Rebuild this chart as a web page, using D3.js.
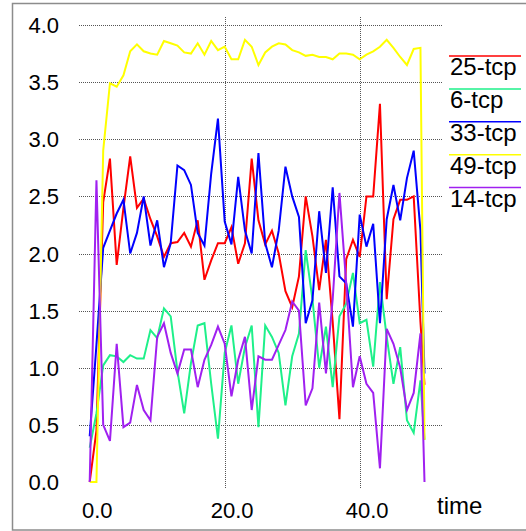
<!DOCTYPE html>
<html>
<head>
<meta charset="utf-8">
<script src="https://cdn.jsdelivr.net/npm/d3@7/dist/d3.min.js"></script>
<style>
	body { margin: 0; background: #fff; }
	svg text { font-family: "Liberation Sans", Arial, Helvetica, sans-serif; fill: #000; }
</style>
</head>
<body>
<div id="chart"></div>
<script>

// sample times (last sample is the end of the run)
var times = [0, 1, 2, 3, 4, 5, 6, 7, 8, 9, 10, 11, 12, 13, 14, 15, 16, 17, 18, 19,
	20, 21, 22, 23, 24, 25, 26, 27, 28, 29, 30, 31, 32, 33, 34, 35, 36, 37, 38, 39,
	40, 41, 42, 43, 44, 45, 46, 47, 48, 49, 49.6];

var tcp25 = [0, 0.45, 2.45, 2.83, 1.9, 2.4, 2.85, 2.4, 2.48, 2.3, 2.15, 1.97, 2.09, 2.1, 2.18, 2.06, 2.29, 1.77, 1.94, 2.09,
	2.09, 2.23, 1.91, 2.09, 2.83, 2.29, 2.08, 2.2, 2.0, 1.67, 1.53, 1.8, 2.5, 2.15, 1.68, 2.12, 1.4, 0.55, 1.95, 2.12,
	1.97, 2.5, 2.5, 3.31, 1.6, 2.3, 2.47, 2.47, 2.5, 1.4, 0.85];

var tcp6 = [0.3, 0.6, 1.02, 1.11, 1.1, 1.05, 1.11, 1.08, 1.08, 1.33, 1.26, 1.52, 1.45, 0.97, 0.6, 1.04, 1.37, 1.39, 0.86, 0.38,
	1.13, 1.37, 0.86, 1.18, 1.37, 0.48, 1.37, 1.27, 1.13, 0.67, 1.1, 1.3, 2.03, 1.6, 1.0, 1.36, 0.83, 1.45, 1.56, 1.83,
	1.39, 1.42, 1.01, 1.75, 1.27, 0.86, 1.18, 0.54, 0.43, 0.89, 0.37];

var tcp33 = [0.4, 1.2, 2.05, 2.2, 2.35, 2.47, 2.0, 2.18, 2.5, 2.07, 2.29, 1.88, 2.09, 2.77, 2.73, 2.6, 2.18, 2.07, 2.7, 3.18,
	2.28, 2.08, 2.67, 2.2, 2.0, 2.88, 2.09, 1.88, 2.2, 2.76, 2.5, 2.32, 1.39, 1.59, 2.37, 1.83, 2.58, 1.8, 1.74, 1.36,
	2.34, 2.06, 2.26, 1.39, 2.3, 2.6, 2.29, 2.66, 2.9, 2.2, 0.95];

var tcp49 = [0, 0, 2.9, 3.49, 3.46, 3.56, 3.77, 3.83, 3.77, 3.75, 3.74, 3.86, 3.84, 3.82, 3.76, 3.75, 3.84, 3.74, 3.86, 3.78,
	3.81, 3.70, 3.70, 3.87, 3.81, 3.65, 3.76, 3.81, 3.84, 3.83, 3.78, 3.76, 3.73, 3.74, 3.72, 3.72, 3.70, 3.75, 3.75, 3.74,
	3.70, 3.74, 3.77, 3.81, 3.87, 3.80, 3.72, 3.65, 3.79, 3.80, 0.37];

var tcp14 = [0, 2.64, 0.5, 0.36, 1.21, 0.48, 0.52, 0.85, 0.63, 0.54, 1.27, 1.39, 1.13, 0.95, 1.16, 1.16, 0.83, 1.07, 1.2, 1.36,
	1.21, 0.75, 1.07, 1.27, 0.63, 1.1, 1.07, 1.07, 1.2, 1.33, 1.58, 1.5, 0.67, 0.82, 1.57, 0.95, 1.6, 2.53, 1.74, 0.83,
	1.1, 0.86, 0.78, 0.12, 1.34, 1.21, 1.0, 0.63, 0.78, 1.3, 0];

var seriesNames = ["25-tcp", "6-tcp", "33-tcp", "49-tcp", "14-tcp"];
var seriesValues = [tcp25, tcp6, tcp33, tcp49, tcp14];
var seriesColors = ["#ff0000", "#1ef08a", "#0000ff", "#ffff00", "#a020f0"];

var yTicks = [0, 0.5, 1.0, 1.5, 2.0, 2.5, 3.0, 3.5, 4.0];
var xTicks = [0, 20, 40];
var xLabel = "time";


var w = 526, h = 531;

// grid area (xgraph style, a bit wider than the data)
var grid = { left: 79, right: 442, top: 17, bottom: 489 };

var svg = d3.select("#chart")
	.append("svg")
		.attr("width", w)
		.attr("height", h);

// outer frame
svg.append("rect")
	.attr("x", 12.5)
	.attr("y", 3.5)
	.attr("width", 530)
	.attr("height", 526.5)
	.attr("fill", "none")
	.attr("stroke", "#8c8c8c")
	.attr("stroke-width", 1.5);

// Scales
var x = d3.scaleLinear()
	.domain([0, 40])
	.range([89.7, 359.7]);

var y = d3.scaleLinear()
	.domain([0, 4])
	.range([482, 25]);


// Horizontal grid lines (none at zero)
svg.selectAll(".hgrid")
	.data(yTicks.filter(function(d) { return d > 0; }))
	.enter().append("line")
		.attr("class", "hgrid")
		.attr("x1", grid.left)
		.attr("x2", grid.right)
		.attr("y1", function(d) { return Math.round(y(d)) + 0.5; })
		.attr("y2", function(d) { return Math.round(y(d)) + 0.5; })
		.attr("stroke", "#555")
		.attr("stroke-width", 1)
		.attr("stroke-dasharray", "1,1");

// Vertical grid lines (none at zero)
svg.selectAll(".vgrid")
	.data(xTicks.filter(function(d) { return d > 0; }))
	.enter().append("line")
		.attr("class", "vgrid")
		.attr("x1", function(d) { return Math.round(x(d)) + 0.5; })
		.attr("x2", function(d) { return Math.round(x(d)) + 0.5; })
		.attr("y1", grid.top)
		.attr("y2", grid.bottom)
		.attr("stroke", "#555")
		.attr("stroke-width", 1)
		.attr("stroke-dasharray", "1,1");

// Tick labels
svg.selectAll(".ylabel")
	.data(yTicks)
	.enter().append("text")
		.attr("class", "ylabel")
		.attr("x", 59)
		.attr("y", function(d) { return y(d) + 8; })
		.attr("text-anchor", "end")
		.attr("font-size", 22)
		.text(function(d) { return d.toFixed(1); });

svg.selectAll(".xlabel")
	.data(xTicks)
	.enter().append("text")
		.attr("class", "xlabel")
		.attr("x", function(d) { return x(d) + 7.5; })
		.attr("y", 518)
		.attr("text-anchor", "middle")
		.attr("font-size", 22)
		.text(function(d) { return d.toFixed(1); });

svg.append("text")
	.attr("x", 437)
	.attr("y", 513.5)
	.attr("font-size", 24)
	.text(xLabel);


// Data lines
var line = d3.line()
	.x(function(d, i) { return x(times[i]); })
	.y(function(d) { return y(d); });

svg.selectAll(".series")
	.data(seriesValues)
	.enter().append("path")
		.attr("class", "series")
		.attr("d", function(d) { return line(d); })
		.attr("fill", "none")
		.attr("stroke", function(d, i) { return seriesColors[i]; })
		.attr("stroke-width", 2)
		.attr("stroke-linejoin", "miter");


// Legend
var legend = svg.selectAll(".legend")
	.data(seriesNames)
	.enter().append("g")
		.attr("class", "legend")
		.attr("transform", function(d, i) { return "translate(449," + (56 + i * 32.9) + ")"; });

legend.append("line")
	.attr("x1", 0)
	.attr("x2", 72)
	.attr("y1", 0)
	.attr("y2", 0)
	.attr("stroke", function(d, i) { return seriesColors[i]; })
	.attr("stroke-width", 1.5);

legend.append("text")
	.attr("x", 1)
	.attr("y", 19)
	.attr("font-size", 24)
	.text(function(d) { return d; });

</script>
</body>
</html>
